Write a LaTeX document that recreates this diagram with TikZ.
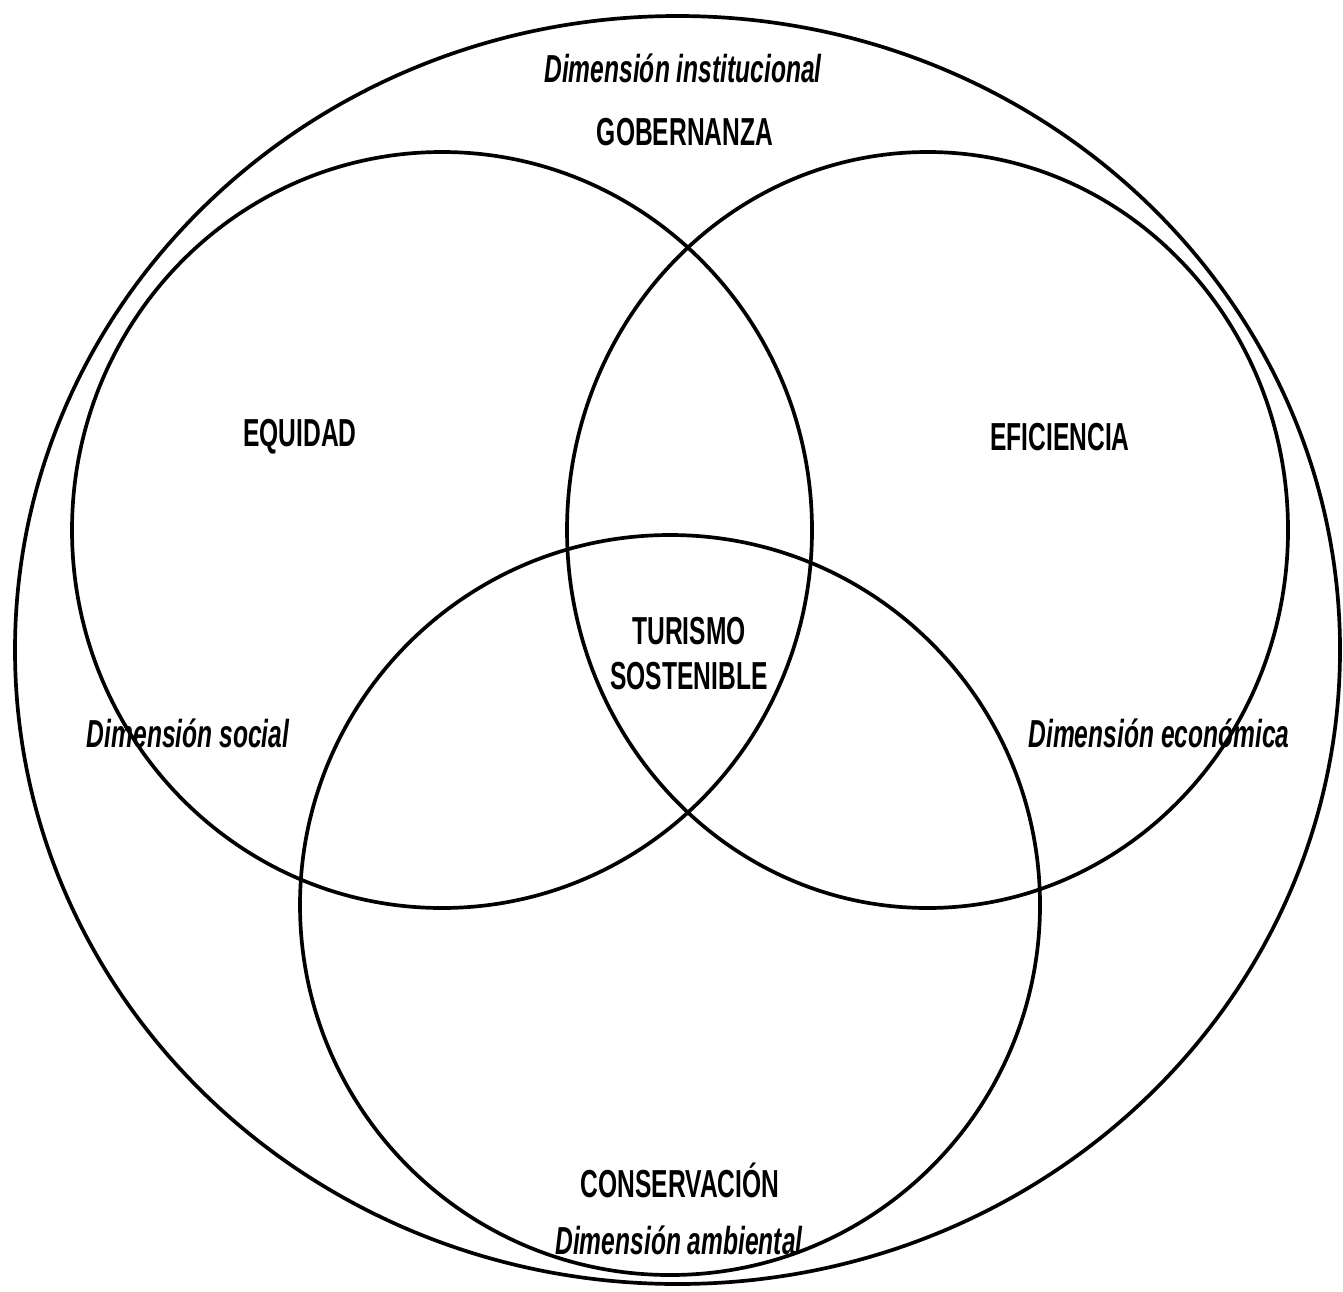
\documentclass[tikz,border=0pt]{standalone}
\usepackage{fontspec}
\newfontfamily\narrowfont{Liberation Sans}[FakeStretch=0.63]
\tikzset{
  ring/.style={draw,line width=1.05pt},
  label/.style={font=\narrowfont\bfseries\fontsize{11.1}{14}\selectfont,inner sep=0pt,align=center},
  dimlabel/.style={label,font=\narrowfont\bfseries\itshape\fontsize{11.1}{14}\selectfont}
}
\begin{document}
\begin{tikzpicture}[x=0.01cm,y=-0.01cm]
\useasboundingbox (0,0) rectangle (1343,1291);
% outer ring and the three dimensions
\draw[ring] (677.5,650) ellipse [x radius=662.5,y radius=634];
\draw[ring] (442,530) ellipse [x radius=370,y radius=378];
\draw[ring] (927.5,530) ellipse [x radius=360.5,y radius=378];
\draw[ring] (670,905) circle (370);
%
\node[dimlabel] (inst) at (683,68) {Dimensión institucional};
\node[label] (gob) at (685,132) {GOBERNANZA};
\node[label] (equi) at (300,437) {EQUIDAD};
\node[label] (efic) at (1060,437) {EFICIENCIA};
\node[label] (tur) at (689,654) {TURISMO\\[-1.2pt]SOSTENIBLE};
\node[dimlabel] (soc) at (188,733) {Dimensión social};
\node[dimlabel] (eco) at (1159,733) {Dimensión económica};
\node[label] (cons) at (680,1180) {CONSERVACIÓN};
\node[dimlabel] (amb) at (679,1240) {Dimensión ambiental};
\end{tikzpicture}
\end{document}
